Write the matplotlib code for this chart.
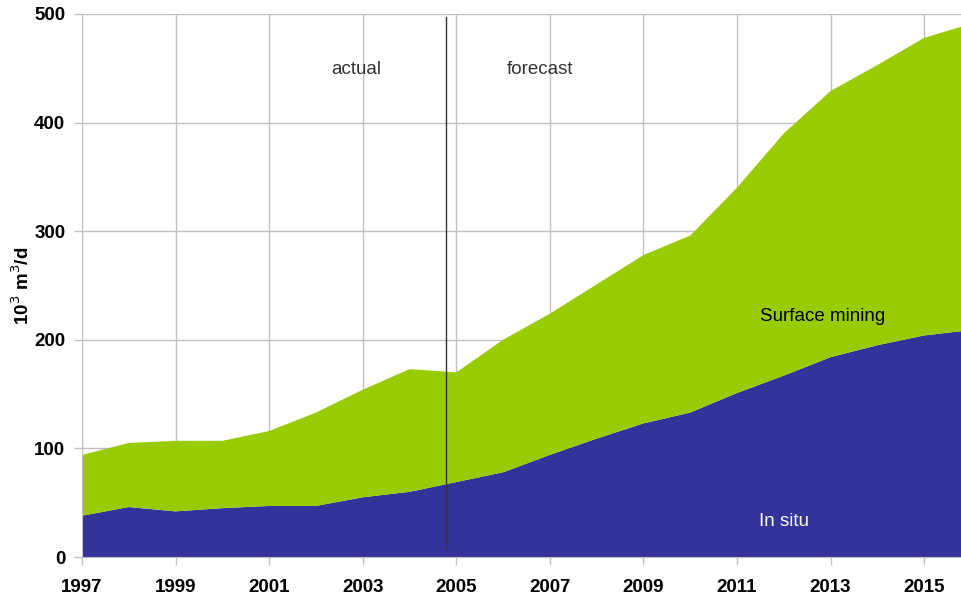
import matplotlib.pyplot as plt
import numpy as np

plt.rcParams['font.family'] = ['Liberation Sans', 'DejaVu Sans']

# data (10^3 m3/d)
years = [1997, 1998, 1999, 2000, 2001, 2002, 2003, 2004, 2005, 2006,
         2007, 2008, 2009, 2010, 2011, 2012, 2013, 2014, 2015, 2016]
in_situ = [38, 46, 42, 45, 47, 47, 55, 60, 69, 78,
           94, 109, 123, 133, 151, 167, 184, 195, 204, 209]
total = [94, 105, 107, 107, 116, 133, 154, 173, 170, 200,
         224, 251, 278, 296, 340, 390, 429, 453, 478, 491]
surface = [t - s for t, s in zip(total, in_situ)]
xticks = list(range(1997, 2016, 2))
yticks = [0, 100, 200, 300, 400, 500]
split_year = 2004.77

green = '#99cc00'
blue = '#333399'
grid = '#c0c0c0'

fig = plt.figure(figsize=(9.62, 6.0), dpi=100)
ax = fig.add_axes([82/962, 43/600, 880/962, 543/600])

ax.stackplot(years, in_situ, surface, colors=[blue, green], linewidth=0, zorder=2)

ax.set_xlim(1997, 2015.81)
ax.set_ylim(0, 500)
ax.set_xticks(xticks)
ax.set_yticks(yticks)
ax.grid(True, color=grid, linewidth=1, zorder=0)
ax.set_axisbelow(True)

for sp in ['top', 'right']:
    ax.spines[sp].set_visible(False)
for sp in ['left', 'bottom']:
    ax.spines[sp].set_color(grid)
    ax.spines[sp].set_zorder(3)

ax.tick_params(axis='both', colors=grid, labelcolor='black', length=6, width=1,
               labelsize=13.5)
for lab in ax.get_xticklabels() + ax.get_yticklabels():
    lab.set_fontweight('bold')
ax.tick_params(axis='x', pad=10)
ax.tick_params(axis='y', pad=6)

ax.set_ylabel('10$^3$ m$^3$/d', fontsize=13.5, fontweight='bold')
ax.yaxis.set_label_coords(-0.056, 0.5)

ax.plot([split_year, split_year], [7, 497], color='#333333', linewidth=1, zorder=4)

ax.text(2002.87, 449, 'actual', fontsize=13.5, color='#333333', ha='center', va='center')
ax.text(2006.78, 449, 'forecast', fontsize=13.5, color='#333333', ha='center', va='center')
ax.text(2012.84, 221, 'Surface mining', fontsize=13.5, color='black', ha='center', va='center')
ax.text(2012.0, 33, 'In situ', fontsize=13.5, color='white', ha='center', va='center')

fig.savefig('out.png', dpi=100)
